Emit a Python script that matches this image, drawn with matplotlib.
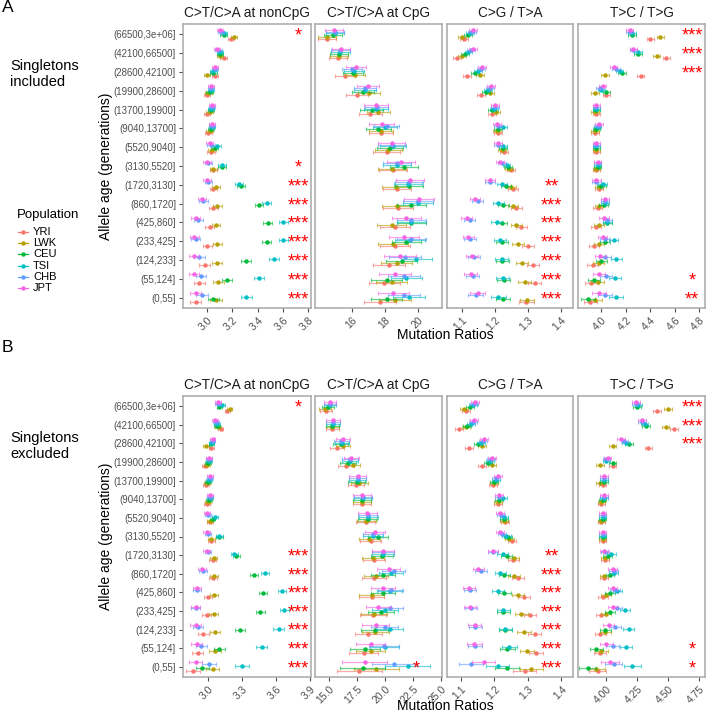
import numpy as np
import matplotlib
matplotlib.use("Agg")
import matplotlib.pyplot as plt
from matplotlib.lines import Line2D
from matplotlib.transforms import blended_transform_factory

plt.rcParams['font.family'] = ['Liberation Sans', 'DejaVu Sans']

# age bins, top row first (as displayed)
ages = ["(66500,3e+06]", "(42100,66500]", "(28600,42100]", "(19900,28600]",
        "(13700,19900]", "(9040,13700]", "(5520,9040]", "(3130,5520]",
        "(1720,3130]", "(860,1720]", "(425,860]", "(233,425]",
        "(124,233]", "(55,124]", "(0,55]"]
pops = ["YRI", "LWK", "CEU", "TSI", "CHB", "JPT"]
colors = ["#F8766D", "#B79F00", "#00BA38", "#00BFC4", "#619CFF", "#F564E3"]
facets = ["C>T/C>A at nonCpG", "C>T/C>A at CpG", "C>G / T>A", "T>C / T>G"]

# ---- A: singletons included ----
a_noncpg = {
    "YRI": [3.19, 3.13, 3.06, 3.00, 3.00, 3.01, 3.03, 3.05, 3.05, 3.05, 3.02, 3.00, 2.98, 2.94, 2.91],
    "LWK": [3.21, 3.10, 3.00, 3.01, 3.02, 3.02, 3.04, 3.05, 3.07, 3.08, 3.07, 3.08, 3.08, 3.09, 3.07],
    "CEU": [3.13, 3.10, 3.05, 3.02, 3.03, 3.03, 3.06, 3.12, 3.27, 3.41, 3.48, 3.47, 3.31, 3.16, 3.05],
    "TSI": [3.13, 3.10, 3.05, 3.03, 3.03, 3.04, 3.08, 3.12, 3.25, 3.47, 3.60, 3.60, 3.53, 3.41, 3.31],
    "CHB": [3.11, 3.09, 3.06, 3.03, 3.04, 3.04, 3.03, 3.01, 3.01, 2.97, 2.93, 2.91, 2.94, 2.95, 2.96],
    "JPT": [3.10, 3.08, 3.06, 3.03, 3.04, 3.04, 3.02, 3.00, 3.00, 2.96, 2.91, 2.90, 2.90, 2.90, 2.91],
}
a_cpg = {
    "YRI": [14.5, 15.15, 15.6, 16.3, 17.1, 17.75, 18.1, 18.5, 18.7, 18.8, 18.6, 18.6, 18.25, 17.95, 17.7],
    "LWK": [14.5, 15.2, 16.2, 17.03, 17.6, 17.75, 18.2, 18.4, 18.67, 18.7, 18.4, 18.5, 18.7, 18.4, 18.6],
    "CEU": [14.85, 15.2, 16.07, 16.67, 17.2, 17.6, 18.3, 19.15, 19.45, 19.6, 19.6, 19.3, 19.0, 18.1, 18.1],
    "TSI": [14.97, 15.3, 16.1, 16.8, 17.45, 18.0, 18.5, 18.7, 19.4, 20.0, 19.6, 19.5, 19.9, 19.3, 19.45],
    "CHB": [14.95, 15.3, 16.0, 16.8, 17.5, 18.1, 18.4, 18.7, 19.45, 20.0, 19.6, 19.6, 19.2, 19.15, 19.15],
    "JPT": [14.9, 15.33, 16.25, 16.97, 17.45, 17.8, 18.4, 18.95, 19.5, 20.06, 19.3, 19.15, 18.9, 18.6, 18.5],
}
a_cg = {
    "YRI": [1.106, 1.085, 1.115, 1.157, 1.19, 1.21, 1.227, 1.248, 1.255, 1.265, 1.28, 1.30, 1.315, 1.32, 1.295],
    "LWK": [1.10, 1.10, 1.155, 1.185, 1.203, 1.205, 1.22, 1.243, 1.25, 1.255, 1.265, 1.27, 1.282, 1.29, 1.297],
    "CEU": [1.118, 1.11, 1.14, 1.173, 1.19, 1.21, 1.225, 1.24, 1.233, 1.225, 1.22, 1.22, 1.222, 1.226, 1.225],
    "TSI": [1.124, 1.12, 1.15, 1.18, 1.197, 1.223, 1.225, 1.235, 1.22, 1.21, 1.205, 1.215, 1.22, 1.223, 1.21],
    "CHB": [1.13, 1.128, 1.158, 1.185, 1.20, 1.21, 1.21, 1.22, 1.185, 1.148, 1.124, 1.124, 1.136, 1.133, 1.142],
    "JPT": [1.133, 1.133, 1.16, 1.188, 1.20, 1.205, 1.21, 1.215, 1.185, 1.14, 1.115, 1.12, 1.13, 1.127, 1.148],
}
a_tc = {
    "YRI": [4.40, 4.53, 4.32, 4.04, 3.96, 3.95, 3.96, 3.96, 3.98, 3.97, 3.96, 3.94, 3.93, 3.92, 3.91],
    "LWK": [4.48, 4.45, 4.03, 3.95, 3.95, 3.95, 3.96, 3.96, 3.98, 3.98, 3.98, 3.98, 3.98, 3.97, 3.95],
    "CEU": [4.25, 4.30, 4.17, 4.04, 3.96, 3.96, 3.96, 3.97, 4.00, 4.02, 4.05, 4.03, 4.00, 3.94, 3.89],
    "TSI": [4.25, 4.30, 4.15, 4.00, 3.96, 3.97, 3.96, 3.97, 4.01, 4.03, 4.05, 4.10, 4.12, 4.11, 4.12],
    "CHB": [4.23, 4.26, 4.12, 3.99, 3.96, 3.97, 3.96, 3.97, 3.96, 4.03, 4.05, 4.03, 4.03, 4.04, 4.03],
    "JPT": [4.23, 4.26, 4.10, 4.01, 3.96, 3.98, 3.96, 3.97, 3.96, 4.03, 4.02, 4.01, 3.99, 3.98, 3.98],
}
a_err = [
    [0.025, 0.025, 0.025, 0.025, 0.025, 0.025, 0.03, 0.03, 0.03, 0.035, 0.035, 0.035, 0.04, 0.04, 0.045],
    [0.55, 0.55, 0.6, 0.65, 0.7, 0.75, 0.8, 0.85, 0.85, 0.9, 0.9, 0.9, 0.95, 0.95, 0.95],
    [0.012, 0.012, 0.012, 0.012, 0.012, 0.012, 0.012, 0.012, 0.015, 0.016, 0.017, 0.018, 0.019, 0.02, 0.022],
    [0.03, 0.03, 0.03, 0.03, 0.03, 0.03, 0.03, 0.03, 0.035, 0.035, 0.04, 0.04, 0.045, 0.05, 0.055],
]
a_stars = [
    ["*", "", "", "", "", "", "", "*", "***", "***", "***", "***", "***", "***", "***"],
    [""] * 15,
    ["", "", "", "", "", "", "", "", "**", "***", "***", "***", "***", "***", "***"],
    ["***", "***", "***", "", "", "", "", "", "", "", "", "", "", "*", "**"],
]

# ---- B: singletons excluded ----
b_noncpg = {
    "YRI": [3.17, 3.11, 3.03, 2.97, 2.98, 2.99, 3.02, 3.03, 3.04, 3.04, 3.00, 2.99, 2.96, 2.91, 2.87],
    "LWK": [3.19, 3.09, 2.98, 2.99, 2.99, 3.00, 3.02, 3.03, 3.05, 3.05, 3.05, 3.05, 3.06, 3.06, 3.04],
    "CEU": [3.10, 3.08, 3.03, 3.00, 3.00, 3.01, 3.04, 3.10, 3.25, 3.40, 3.48, 3.46, 3.28, 3.10, 2.95],
    "TSI": [3.12, 3.08, 3.03, 3.01, 3.01, 3.02, 3.06, 3.10, 3.23, 3.50, 3.65, 3.67, 3.62, 3.47, 3.30],
    "CHB": [3.09, 3.07, 3.04, 3.01, 3.02, 3.02, 3.00, 3.00, 3.00, 2.96, 2.90, 2.89, 2.91, 2.94, 3.01],
    "JPT": [3.09, 3.06, 3.04, 3.01, 3.02, 3.02, 2.99, 2.99, 2.99, 2.95, 2.90, 2.89, 2.89, 2.90, 2.89],
}
b_cpg = {
    "YRI": [14.75, 15.3, 15.7, 16.5, 17.4, 17.9, 18.25, 18.7, 19.0, 19.0, 18.8, 18.9, 18.5, 18.1, 17.7],
    "LWK": [14.65, 15.3, 16.25, 17.1, 17.7, 17.9, 18.3, 18.6, 18.9, 19.2, 18.8, 19.0, 19.1, 18.7, 19.2],
    "CEU": [14.9, 15.3, 16.05, 16.7, 17.45, 17.9, 18.45, 19.35, 19.7, 19.8, 19.8, 19.6, 19.05, 18.2, 18.0],
    "TSI": [15.1, 15.35, 16.15, 16.85, 17.55, 18.05, 18.5, 18.9, 19.8, 20.5, 20.4, 19.95, 20.4, 19.95, 22.0],
    "CHB": [15.1, 15.35, 16.1, 16.85, 17.55, 18.0, 18.45, 18.9, 19.8, 20.75, 20.5, 20.4, 19.95, 19.9, 20.8],
    "JPT": [15.1, 15.35, 16.25, 17.0, 17.55, 17.9, 18.4, 19.1, 19.8, 20.3, 19.8, 19.4, 19.15, 18.7, 18.2],
}
b_cg = {
    "YRI": [1.115, 1.094, 1.124, 1.162, 1.197, 1.212, 1.232, 1.252, 1.256, 1.27, 1.288, 1.306, 1.32, 1.324, 1.29],
    "LWK": [1.109, 1.115, 1.162, 1.194, 1.20, 1.212, 1.23, 1.245, 1.258, 1.258, 1.27, 1.28, 1.288, 1.297, 1.31],
    "CEU": [1.127, 1.118, 1.15, 1.182, 1.20, 1.215, 1.23, 1.24, 1.237, 1.23, 1.23, 1.227, 1.233, 1.238, 1.237],
    "TSI": [1.135, 1.13, 1.16, 1.188, 1.205, 1.225, 1.23, 1.236, 1.225, 1.218, 1.212, 1.227, 1.233, 1.244, 1.21],
    "CHB": [1.14, 1.135, 1.165, 1.19, 1.205, 1.215, 1.22, 1.222, 1.196, 1.16, 1.126, 1.13, 1.143, 1.142, 1.13],
    "JPT": [1.141, 1.138, 1.168, 1.194, 1.21, 1.215, 1.218, 1.218, 1.196, 1.152, 1.124, 1.127, 1.141, 1.14, 1.168],
}
b_tc = {
    "YRI": [4.41, 4.55, 4.34, 4.05, 3.97, 3.96, 3.96, 3.97, 3.99, 3.98, 3.97, 3.96, 3.95, 3.95, 3.93],
    "LWK": [4.50, 4.48, 4.05, 3.95, 3.95, 3.96, 3.96, 3.97, 3.99, 3.98, 4.00, 4.00, 3.99, 3.96, 3.92],
    "CEU": [4.25, 4.32, 4.185, 4.05, 3.98, 3.97, 3.97, 3.97, 4.01, 4.03, 4.03, 4.03, 3.99, 3.92, 3.85],
    "TSI": [4.26, 4.31, 4.16, 4.00, 3.98, 3.98, 3.97, 3.97, 4.04, 4.06, 4.09, 4.15, 4.18, 4.16, 4.21],
    "CHB": [4.24, 4.29, 4.145, 4.00, 3.98, 3.98, 3.97, 3.97, 3.99, 4.06, 4.07, 4.09, 4.07, 4.05, 4.06],
    "JPT": [4.24, 4.29, 4.12, 4.01, 3.98, 3.98, 3.97, 3.97, 3.98, 4.05, 4.05, 4.05, 4.02, 4.00, 4.03],
}
b_err = [
    [0.025, 0.025, 0.025, 0.025, 0.025, 0.025, 0.025, 0.03, 0.03, 0.035, 0.035, 0.04, 0.045, 0.05, 0.06],
    [0.55, 0.6, 0.65, 0.7, 0.75, 0.8, 0.85, 0.9, 1.0, 1.05, 1.1, 1.15, 1.2, 1.3, 2.0],
    [0.012, 0.012, 0.012, 0.012, 0.012, 0.012, 0.012, 0.012, 0.016, 0.017, 0.018, 0.019, 0.02, 0.022, 0.035],
    [0.03, 0.03, 0.03, 0.03, 0.03, 0.03, 0.03, 0.03, 0.035, 0.035, 0.04, 0.04, 0.045, 0.05, 0.07],
]
b_stars = [
    ["*", "", "", "", "", "", "", "", "***", "***", "***", "***", "***", "***", "***"],
    ["", "", "", "", "", "", "", "", "", "", "", "", "", "", "*"],
    ["", "", "", "", "", "", "", "", "**", "***", "***", "***", "***", "***", "***"],
    ["***", "***", "***", "", "", "", "", "", "", "", "", "", "", "*", "*"],
]

a_xlims = [(2.81, 3.82), (13.76, 21.45), (1.055, 1.436), (3.81, 4.845)]
a_xticks = [[3.0, 3.2, 3.4, 3.6, 3.8], [16, 18, 20], [1.1, 1.2, 1.3, 1.4], [4.0, 4.2, 4.4, 4.6, 4.8]]
a_xticklabels = [["3.0", "3.2", "3.4", "3.6", "3.8"], ["16", "18", "20"],
                 ["1.1", "1.2", "1.3", "1.4"], ["4.0", "4.2", "4.4", "4.6", "4.8"]]
b_xlims = [(2.78, 3.905), (13.76, 25.05), (1.058, 1.435), (3.77, 4.80)]
b_xticks = [[3.0, 3.3, 3.6, 3.9], [15.0, 17.5, 20.0, 22.5, 25.0], [1.1, 1.2, 1.3, 1.4], [4.0, 4.25, 4.5, 4.75]]
b_xticklabels = [["3.0", "3.3", "3.6", "3.9"], ["15.0", "17.5", "20.0", "22.5", "25.0"],
                 ["1.1", "1.2", "1.3", "1.4"], ["4.00", "4.25", "4.50", "4.75"]]

W, H = 707, 713
fig = plt.figure(figsize=(W / 100, H / 100), dpi=100)

col_px = [(183, 311), (315, 442), (447, 573), (578, 705)]
a_star_x = [0.9, 0.8, 0.83, 0.9]
b_star_x = [0.9, 0.8, 0.83, 0.9]
dodge = 0.095
grey = "#4D4D4D"


def draw_panel(top, bottom, datasets, errs, stars, star_x, xlims, xticks, xticklabels):
    ypos = np.arange(len(ages), 0, -1)
    for j in range(4):
        x0, x1 = col_px[j]
        ax = fig.add_axes([x0 / W, 1 - bottom / H, (x1 - x0) / W, (bottom - top) / H])
        data = datasets[j]
        for k, (p, c) in enumerate(zip(pops, colors)):
            yy = ypos + (k - 2.5) * dodge
            ax.errorbar(data[p], yy, xerr=errs[j], fmt='none', ecolor=c,
                        elinewidth=0.9, capsize=1.2, capthick=0.8, alpha=0.6)
            ax.plot(data[p], yy, 'o', color=c, ms=3.2, mew=0)
        tr = blended_transform_factory(ax.transAxes, ax.transData)
        for i, s in enumerate(stars[j]):
            if s:
                ax.text(star_x[j], ypos[i] - 0.1, s, transform=tr, color="red",
                        ha="center", va="center", fontsize=13)
        ax.set_xlim(*xlims[j])
        ax.set_ylim(0.45, 15.55)
        ax.set_xticks(xticks[j])
        ax.set_xticklabels(xticklabels[j], rotation=45, ha="right",
                           rotation_mode="anchor")
        ax.tick_params(axis="x", length=3, color=grey, labelcolor=grey,
                       labelsize=7.5, pad=2)
        if j == 0:
            ax.set_yticks(ypos)
            ax.set_yticklabels(ages)
            ax.tick_params(axis="y", length=3, color=grey, labelcolor=grey,
                           labelsize=6.9, pad=2)
        else:
            ax.set_yticks([])
        for sp in ax.spines.values():
            sp.set_color("#A8A8A8")
            sp.set_linewidth(1.1)
        ax.set_title(facets[j], fontsize=9.8, color="#1A1A1A", pad=5)


draw_panel(24, 308, [a_noncpg, a_cpg, a_cg, a_tc], a_err, a_stars, a_star_x,
           a_xlims, a_xticks, a_xticklabels)
draw_panel(396, 677, [b_noncpg, b_cpg, b_cg, b_tc], b_err, b_stars, b_star_x,
           b_xlims, b_xticks, b_xticklabels)

# panel labels and annotations
fig.text(2 / W, 1 - 8 / H, "A", fontsize=12.5, va="center", ha="left")
fig.text(2 / W, 1 - 348 / H, "B", fontsize=12.5, va="center", ha="left")
fig.text(10 / W, 1 - 74 / H, "Singletons\nincluded", fontsize=10.5, va="center",
         ha="left", linespacing=1.25)
fig.text(10 / W, 1 - 446 / H, "Singletons\nexcluded", fontsize=10.5, va="center",
         ha="left", linespacing=1.25)
fig.text(106 / W, 1 - 166 / H, "Allele age (generations)", rotation=90,
         fontsize=10, va="center", ha="center")
fig.text(106 / W, 1 - 536 / H, "Allele age (generations)", rotation=90,
         fontsize=10, va="center", ha="center")
fig.text(445 / W, 1 - 335 / H, "Mutation Ratios", fontsize=10, va="center", ha="center")
fig.text(445 / W, 1 - 706 / H, "Mutation Ratios", fontsize=10, va="center", ha="center")

# legend (drawn by hand to match the tight key spacing)
fig.text(17 / W, 1 - 215 / H, "Population", fontsize=9.5, va="center", ha="left")
for k, (p, c) in enumerate(zip(pops, colors)):
    yk = 1 - (232 + k * 11.2) / H
    fig.add_artist(Line2D([18 / W, 28 / W], [yk, yk], color=c, lw=0.9,
                          transform=fig.transFigure))
    fig.add_artist(Line2D([23 / W], [yk], color=c, marker="o", ms=3.2, mew=0,
                          transform=fig.transFigure))
    fig.text(33 / W, yk, p, fontsize=8, va="center", ha="left")

fig.savefig("out.png", dpi=100)
